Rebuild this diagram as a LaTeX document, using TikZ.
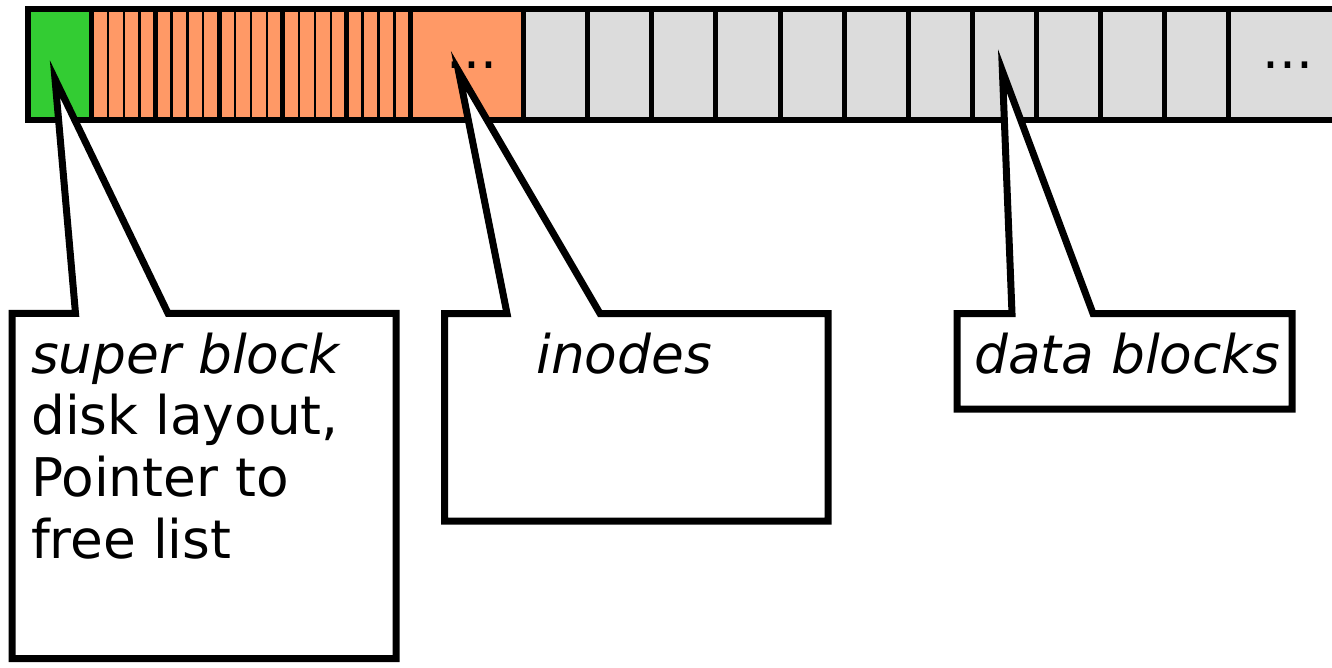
\documentclass[tikz,border=0pt]{standalone}
\usepackage{fontspec}
\setmainfont{DejaVu Sans}
\definecolor{sbgreen}{RGB}{51,204,51}
\definecolor{sborange}{RGB}{255,153,102}
\definecolor{sbgray}{RGB}{220,220,220}
\begin{document}
\begin{tikzpicture}[x=1pt,y=-1pt,
  callout/.style={draw=black, fill=white, line width=7pt, line join=miter},
  thicksep/.style={draw=black, line width=5pt},
  thinsep/.style={draw=black, line width=2.3pt},
  outline/.style={draw=black, line width=6pt},
  lbl/.style={anchor=base west, inner sep=0pt, font=\fontsize{53.3}{61.7}\selectfont, align=left}]
\useasboundingbox (0,0) rectangle (1332,667);
\begin{scope}
\clip (0,0) rectangle (1332,667);
% block fills
\fill[sbgreen] (28.4,9) rectangle (91.8,120);
\fill[sborange] (91.8,9) rectangle (523.8,120);
\fill[sbgray] (523.8,9) rectangle (1345,120);
% inode sub-blocks
\foreach \g in {0,...,4}{
  \foreach \k in {1,2,3}{
    \draw[thinsep] ({91.8+63.7*\g+15.925*\k},9) -- ({91.8+63.7*\g+15.925*\k},120);
  }
}
\foreach \g in {0,...,5}{
  \draw[thicksep] ({91.8+63.7*\g},9) -- ({91.8+63.7*\g},120);
}
% data block separators
\foreach \k in {0,...,11}{
  \draw[thicksep] ({523.8+64.05*\k},9) -- ({523.8+64.05*\k},120);
}
\draw[outline] (28.4,9) rectangle (1350,120);
\node[lbl] (idots) at (446,68.7) {...};
\node[lbl] (ddots) at (1262,68.7) {...};
% callouts
\coordinate (tipS) at (55,79);
\coordinate (tipI) at (458.5,71);
\coordinate (tipD) at (1002.4,71);
\draw[callout] (12,313.3) -- (75.5,313.3) -- (tipS) -- (168,313.3) -- (396,313.3) -- (396,658.5) -- (12,658.5) -- cycle;
\draw[callout] (444.5,313.5) -- (507,313.5) -- (tipI) -- (600,313.5) -- (828,313.5) -- (828,521) -- (444.5,521) -- cycle;
\draw[callout] (957,313.5) -- (1012,313.5) -- (tipD) -- (1093,313.5) -- (1292,313.5) -- (1292,409) -- (957,409) -- cycle;
\node[lbl] (super) at (31,558.1) {\textit{super block}\\disk layout,\\Pointer to\\free list};
\node[lbl] (inodes) at (536,373) {\textit{inodes}};
\node[lbl] (data) at (974,373) {\textit{data blocks}};
\end{scope}
\end{tikzpicture}
\end{document}
